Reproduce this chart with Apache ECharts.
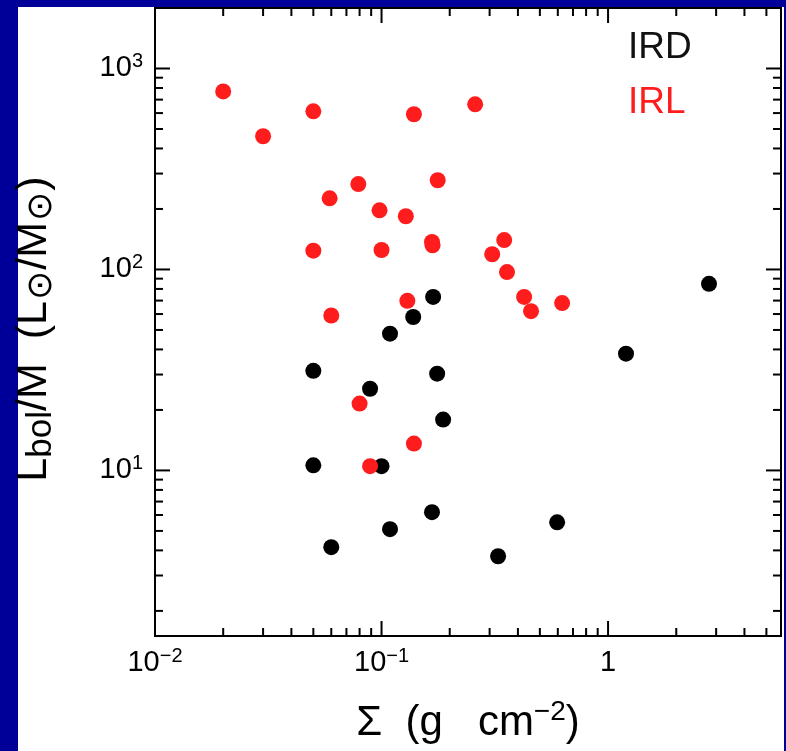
<!DOCTYPE html>
<html>
<head>
<meta charset="utf-8">
<script src="https://cdn.jsdelivr.net/npm/echarts@6/dist/echarts.min.js"></script>
<style>
html,body{margin:0;padding:0;background:#000099;}
#chart{width:786px;height:751px;}
</style>
</head>
<body>
<div id="chart"></div>
<script>
// ---- data (Sigma in g cm^-2, Lbol/M in Lsun/Msun) ----
const irdSigma = [0.169, 0.138, 0.109, 0.05, 0.176, 0.089, 0.187, 0.05, 0.1, 0.167, 0.109, 0.06, 0.327, 0.596, 1.20, 2.79];
const irdLM    = [73, 58, 47.9, 31.3, 30.3, 25.5, 17.9, 10.6, 10.5, 6.2, 5.1, 4.15, 3.74, 5.52, 38.1, 84.8];
const irlSigma = [0.02, 0.03, 0.05, 0.139, 0.259, 0.079, 0.177, 0.059, 0.098, 0.128, 0.05, 0.1, 0.167, 0.168, 0.348, 0.308, 0.358, 0.426, 0.457, 0.627, 0.13, 0.06, 0.08, 0.139, 0.089];
const irlLM    = [769, 460, 612, 592, 663, 266, 278, 226, 197, 184, 124, 125, 137, 132, 140, 119, 97, 73, 62, 68, 69.8, 59, 21.5, 13.6, 10.5];

// ---- axes ----
const xMin = 0.01, xMax = 5.8;
const yMin = 1.5, yMax = 2000;
const xMajorTicks = [0.01, 0.1, 1];
const xMinorTicks = [0.02,0.03,0.04,0.05,0.06,0.07,0.08,0.09,0.2,0.3,0.4,0.5,0.6,0.7,0.8,0.9,2,3,4,5];
const yMajorTicks = [10, 100, 1000];
const yMinorTicks = [2,3,4,5,6,7,8,9,20,30,40,50,60,70,80,90,200,300,400,500,600,700,800,900];

const RED = '#ff1c1c';
const FONT = "'Liberation Sans', Arial, 'DejaVu Sans', sans-serif";

// tick items: [x, y, side(0 bottom,1 top,2 left,3 right), major(1/0)]
const tickData = [];
xMajorTicks.forEach(v => { tickData.push([v, yMin, 0, 1]); tickData.push([v, yMax, 1, 1]); });
xMinorTicks.forEach(v => { tickData.push([v, yMin, 0, 0]); tickData.push([v, yMax, 1, 0]); });
yMajorTicks.forEach(v => { tickData.push([xMin, v, 2, 1]); tickData.push([xMax, v, 3, 1]); });
yMinorTicks.forEach(v => { tickData.push([xMin, v, 2, 0]); tickData.push([xMax, v, 3, 0]); });

function pow10Label(v) {
  const l = Math.log10(v), r = Math.round(l);
  if (Math.abs(l - r) > 1e-6) return '';
  if (r === 0) return '{b|1}';
  return '{b|10}{sup|' + (r < 0 ? '\u2212' + (-r) : String(r)) + '}';
}
const labelRich = {
  b: { fontSize: 29, fontFamily: FONT, color: '#000', lineHeight: 34 },
  sup: { fontSize: 20, fontFamily: FONT, color: '#000', verticalAlign: 'top', lineHeight: 34, padding: [0,0,15,0] }
};

const chart = echarts.init(document.getElementById('chart'), null, {renderer: 'canvas'});
chart.setOption({
  backgroundColor: '#000099',
  animation: false,
  graphic: [{
    type: 'rect', z: -100, silent: true,
    shape: { x: 18, y: 7, width: 766, height: 744 },
    style: { fill: '#ffffff' }
  }],
  legend: {
    orient: 'vertical', left: 618, top: 24, itemGap: 18,
    icon: 'none', itemWidth: 0, itemHeight: 0,
    selectedMode: false,
    textStyle: { fontSize: 37, fontFamily: FONT },
    data: [
      { name: 'IRD', textStyle: { color: '#111' } },
      { name: 'IRL', textStyle: { color: RED } }
    ]
  },
  grid: {
    left: 155, right: 5, top: 8, bottom: 115,
    outerBoundsMode: 'none', containLabel: false,
    show: true, borderColor: '#000', borderWidth: 2, backgroundColor: 'transparent'
  },
  xAxis: {
    type: 'log', logBase: 10, min: xMin, max: xMax,
    splitLine: { show: false }, axisTick: { show: false }, axisLine: { show: false },
    axisLabel: {
      margin: 10, formatter: pow10Label, rich: labelRich, showMinLabel: true, showMaxLabel: true
    },
    name: '{t|\u03a3  (g   cm}{sup|\u22122}{t|)}',
    nameLocation: 'middle', nameGap: 62,
    nameTextStyle: {
      rich: {
        t: { fontSize: 42, fontFamily: FONT, color: '#000', lineHeight: 50 },
        sup: { fontSize: 28, fontFamily: FONT, color: '#000', verticalAlign: 'top', lineHeight: 50, padding: [0,0,19,0] }
      }
    }
  },
  yAxis: {
    type: 'log', logBase: 10, min: yMin, max: yMax,
    splitLine: { show: false }, axisTick: { show: false }, axisLine: { show: false },
    axisLabel: {
      margin: 12, formatter: pow10Label, rich: labelRich
    },
    name: '{t|L}{sub|bol}{t|/M  (L}{dot|\u2299}{t|/M}{dot|\u2299}{t|)}',
    nameLocation: 'middle', nameGap: 96, nameRotate: 90,
    nameTextStyle: {
      padding: [0, 14, 0, 0],
      rich: {
        t: { fontSize: 43, fontFamily: FONT, color: '#000', lineHeight: 50 },
        sub: { fontSize: 35, fontFamily: FONT, color: '#000', verticalAlign: 'bottom', lineHeight: 50, padding: [12,0,0,0] },
        dot: { fontSize: 35, fontFamily: "'DejaVu Sans', sans-serif", color: '#000', verticalAlign: 'bottom', lineHeight: 50, padding: [12,1,0,1] }
      }
    }
  },
  series: [
    {
      name: 'IRD', type: 'scatter', symbol: 'circle', symbolSize: 16,
      itemStyle: { color: '#000', opacity: 1 },
      data: irdSigma.map((s, i) => [s, irdLM[i]]), z: 3
    },
    {
      name: 'IRL', type: 'scatter', symbol: 'circle', symbolSize: 16,
      itemStyle: { color: RED, opacity: 1 },
      data: irlSigma.map((s, i) => [s, irlLM[i]]), z: 4
    },
    {
      name: 'ticks', type: 'custom', silent: true, clip: false, z: 5,
      encode: { x: 0, y: 1 },
      data: tickData,
      renderItem: function (params, api) {
        const p = api.coord([api.value(0), api.value(1)]);
        const side = api.value(2), major = api.value(3);
        const len = major ? 15 : 8;
        let dx = 0, dy = 0;
        if (side === 0) dy = -len; else if (side === 1) dy = len;
        else if (side === 2) dx = len; else dx = -len;
        return { type: 'line', shape: { x1: p[0], y1: p[1], x2: p[0] + dx, y2: p[1] + dy },
                 style: { stroke: '#000', lineWidth: 2 } };
      }
    }
  ]
});
</script>
</body>
</html>
